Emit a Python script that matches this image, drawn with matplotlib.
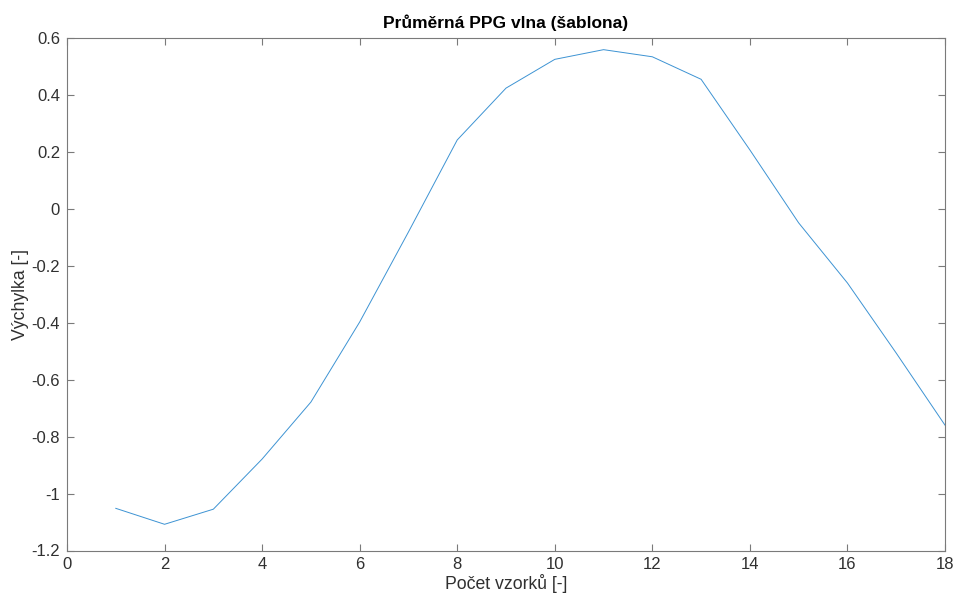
import matplotlib
matplotlib.use("Agg")
import matplotlib.pyplot as plt
from matplotlib.ticker import FuncFormatter

plt.rcParams['font.family'] = ['Liberation Sans', 'DejaVu Sans']
plt.rcParams['axes.unicode_minus'] = False

samples = list(range(1, 19))
values = [-1.052, -1.108, -1.055, -0.879, -0.679, -0.398, -0.082, 0.241, 0.423,
          0.524, 0.558, 0.533, 0.454, 0.206, -0.050, -0.261, -0.507, -0.760]
xticks = [0, 2, 4, 6, 8, 10, 12, 14, 16, 18]
yticks = [-1.2, -1.0, -0.8, -0.6, -0.4, -0.2, 0.0, 0.2, 0.4, 0.6]

fig = plt.figure(figsize=(9.58, 6.01), dpi=100)
ax = fig.add_axes([67/958, 1-550.5/601, (945-67)/958, (550.5-37.7)/601])
ax.plot(samples, values, color='#3d93d3', lw=0.7)
ax.set_xlim(0, 18)
ax.set_ylim(-1.2, 0.6)
ax.set_xticks(xticks)
ax.set_yticks(yticks)
fmt = FuncFormatter(lambda v, p: '%g' % round(v, 4))
ax.xaxis.set_major_formatter(fmt)
ax.yaxis.set_major_formatter(fmt)
linec = '#7a7a7a'
textc = '#303030'
for s in ax.spines.values():
    s.set_color(linec)
    s.set_linewidth(0.8)
ax.tick_params(direction='in', top=True, right=True, length=5, width=0.8,
               colors=linec, labelsize=12, labelcolor=textc, pad=5)
ax.set_xlabel('Počet vzorků [-]', fontsize=12.7, color=textc, labelpad=1)
ax.set_ylabel('Výchylka [-]', fontsize=12.7, color=textc, labelpad=1.5)
ax.set_title('Průměrná PPG vlna (šablona)', fontsize=12.5, fontweight='bold', color='black', pad=7)
fig.savefig('out.png', dpi=100)
